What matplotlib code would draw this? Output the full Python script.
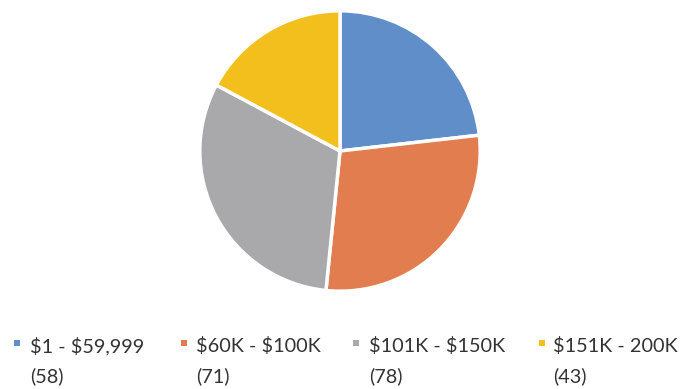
import matplotlib
matplotlib.use("Agg")
import matplotlib.pyplot as plt
from matplotlib.patches import Rectangle

plt.rcParams["text.parse_math"] = False

categories = ["$1 - $59,999", "$60K - $100K", "$101K - $150K", "$151K - 200K"]
counts = [58, 71, 78, 43]
colors = ["#5f8ec8", "#e27d50", "#a9a9ab", "#f3bf1d"]

W, H = 683, 389
fig = plt.figure(figsize=(W / 100, H / 100), dpi=100)
fig.patch.set_facecolor("white")

# Pie axes placed in pixel terms
cx, cy, r = 340, 151, 143
ax = fig.add_axes([(cx - r) / W, (H - cy - r) / H, 2 * r / W, 2 * r / H])
ax.pie(counts, colors=colors, startangle=90, counterclock=False,
       wedgeprops=dict(edgecolor="white", linewidth=2.5))
ax.set_aspect("equal")
ax.set_xlim(-1.02, 1.02)
ax.set_ylim(-1.02, 1.02)
ax.axis("off")

# Legend row beneath the pie
marker_x = [14, 181, 353, 539]
text_x = [30, 196, 369, 553]
text_color = "#333333"
for mx, tx, cat, n, col in zip(marker_x, text_x, categories, counts, colors):
    fig.patches.append(Rectangle((mx / W, (H - 346) / H), 6 / W, 6 / H,
                                 transform=fig.transFigure, facecolor=col,
                                 edgecolor="none"))
    fig.text(tx / W, (H - 352) / H, cat, fontsize=14.3, family="Lato",
             color=text_color, va="baseline", ha="left")
    fig.text(tx / W, (H - 382) / H, f"({n})", fontsize=14.3, family="Lato",
             color=text_color, va="baseline", ha="left")

fig.savefig("out.png", dpi=100, facecolor="white")
